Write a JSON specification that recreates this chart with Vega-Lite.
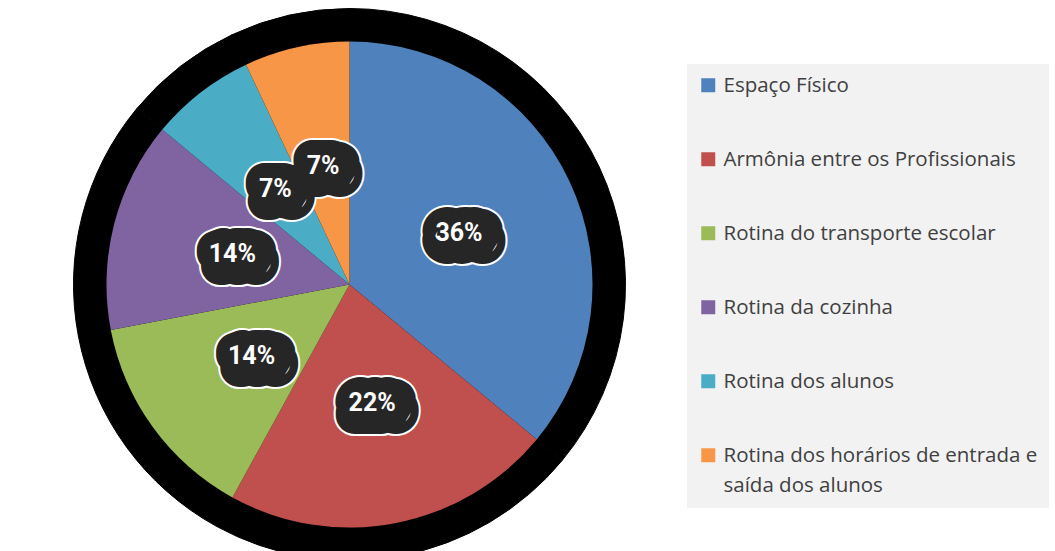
{
  "$schema": "https://vega.github.io/schema/vega-lite/v6.json",
  "width": 699,
  "height": 533,
  "autosize": {"type": "none"},
  "padding": {"left": 0, "top": 18, "right": 356, "bottom": 0},
  "background": "#FFFFFF",
  "config": {"view": {"stroke": null}},
  "data": {
    "values": [
      {"categoria": "Espaço Físico", "percentual": 0.36, "ordem": 1},
      {"categoria": "Armônia entre os Profissionais", "percentual": 0.22, "ordem": 2},
      {"categoria": "Rotina do transporte escolar", "percentual": 0.14, "ordem": 3},
      {"categoria": "Rotina da cozinha", "percentual": 0.14, "ordem": 4},
      {"categoria": "Rotina dos alunos", "percentual": 0.07, "ordem": 5},
      {"categoria": "Rotina dos horários de entrada e saída dos alunos", "percentual": 0.07, "ordem": 6}
    ]
  },
  "encoding": {
    "theta": {"field": "percentual", "type": "quantitative", "stack": true},
    "order": {"field": "ordem", "type": "quantitative"}
  },
  "layer": [
    {
      "mark": {"type": "arc", "radius": 276, "fill": "#000000", "stroke": "#000000", "strokeWidth": 1}
    },
    {
      "mark": {"type": "arc", "radius": 243},
      "encoding": {
        "color": {
          "field": "categoria",
          "type": "nominal",
          "scale": {
            "domain": ["Espaço Físico", "Armônia entre os Profissionais", "Rotina do transporte escolar", "Rotina da cozinha", "Rotina dos alunos", "Rotina dos horários de entrada e saída dos alunos"],
            "range": ["#4F81BD", "#C0504D", "#9BBB59", "#8064A2", "#4BACC6", "#F79646"]
          },
          "legend": {
            "title": null,
            "orient": "none",
            "legendX": 687,
            "legendY": 46,
            "fillColor": "#F2F2F2",
            "padding": 11,
            "symbolType": "square",
            "symbolSize": 196,
            "symbolStrokeWidth": 0,
            "labelFont": "Open Sans",
            "labelFontSize": 20.5,
            "labelColor": "#404040",
            "labelLimit": 600,
            "labelOffset": 5,
            "rowPadding": 52,
            "labelBaseline": "alphabetic",
            "labelExpr": "datum.label == 'Rotina dos horários de entrada e saída dos alunos' ? ['Rotina dos horários de entrada e', 'saída dos alunos'] : datum.label",
            "encode": {"labels": {"update": {"dy": {"value": 7}, "lineHeight": {"value": 30}}}}
          }
        }
      }
    },
    {
      "mark": {"type": "text", "radius": 121, "dx": 5, "dy": 4, "font": "Roboto", "fontWeight": "bold", "fontSize": 25, "fill": "#FFFFFF", "stroke": "#FFFFFF", "strokeWidth": 42, "strokeJoin": "round"},
      "encoding": {"text": {"field": "percentual", "type": "quantitative", "format": ".0%"}}
    },
    {
      "mark": {"type": "text", "radius": 121, "dx": 5, "dy": 4, "font": "Roboto", "fontWeight": "bold", "fontSize": 25, "fill": "#262626", "stroke": "#262626", "strokeWidth": 38, "strokeJoin": "round"},
      "encoding": {"text": {"field": "percentual", "type": "quantitative", "format": ".0%"}}
    },
    {
      "mark": {"type": "text", "radius": 121, "font": "Roboto", "fontWeight": "bold", "fontSize": 25, "fill": "#FFFFFF"},
      "encoding": {"text": {"field": "percentual", "type": "quantitative", "format": ".0%"}}
    }
  ]
}
